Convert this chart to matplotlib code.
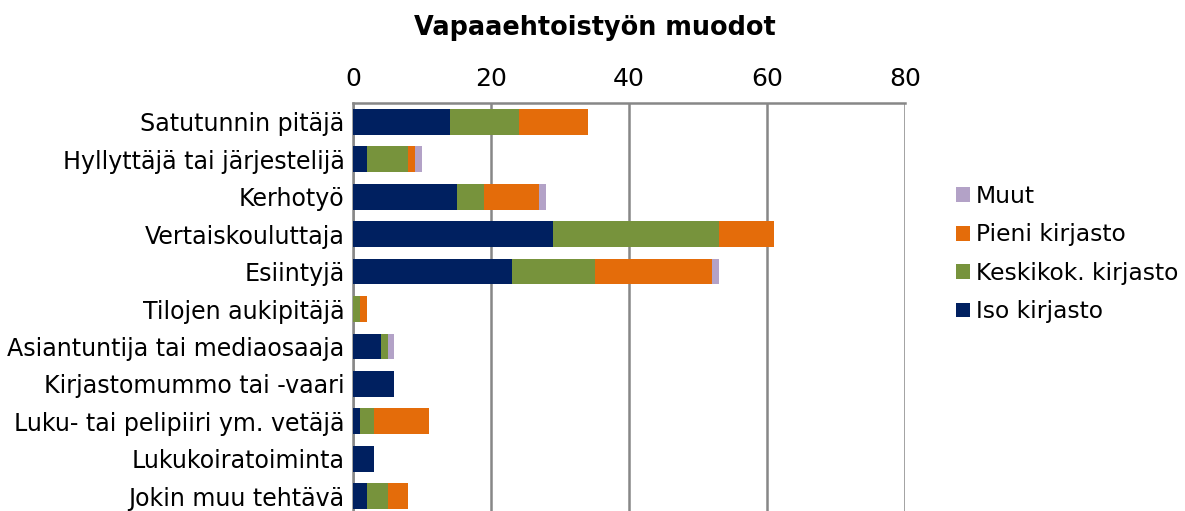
import matplotlib
matplotlib.use("Agg")
import matplotlib.pyplot as plt
import numpy as np

plt.rcParams["font.family"] = ["DejaVu Sans"]

categories = ["Satutunnin pitäjä", "Hyllyttäjä tai järjestelijä", "Kerhotyö",
              "Vertaiskouluttaja", "Esiintyjä", "Tilojen aukipitäjä",
              "Asiantuntija tai mediaosaaja", "Kirjastomummo tai -vaari",
              "Luku- tai pelipiiri ym. vetäjä", "Lukukoiratoiminta", "Jokin muu tehtävä"]
iso = [14, 2, 15, 29, 23, 0, 4, 6, 1, 3, 2]
keski = [10, 6, 4, 24, 12, 1, 1, 0, 2, 0, 3]
pieni = [10, 1, 8, 8, 17, 1, 0, 0, 8, 0, 3]
muut = [0, 1, 1, 0, 1, 0, 1, 0, 0, 0, 0]
series_names = ["Iso kirjasto", "Keskikok. kirjasto", "Pieni kirjasto", "Muut"]
colors = ["#002060", "#77933C", "#E46C0A", "#B3A2C7"]
xticks = [0, 20, 40, 60, 80]

fig = plt.figure(figsize=(11.85, 5.11), dpi=100)
W, H = 1185, 511
ax = fig.add_axes([353 / W, 1 - 515 / H, (905 - 353) / W, (515 - 103) / H])

y = np.arange(len(categories))
left = np.zeros(len(categories))
handles = []
for vals, name, c in zip([iso, keski, pieni, muut], series_names, colors):
    b = ax.barh(y, vals, left=left, height=0.69, color=c, label=name, zorder=3)
    handles.append(b)
    left += np.array(vals)

ax.set_ylim(len(categories) - 0.5, -0.5)
ax.set_xlim(0, 80)
ax.set_xticks(xticks)
ax.xaxis.tick_top()
ax.tick_params(axis="x", length=0, labelsize=18, pad=9)
ax.set_yticks(y)
ax.set_yticklabels(categories, fontsize=17.1)
ax.tick_params(axis="y", length=0, pad=6)
ax.grid(axis="x", color="#878787", linewidth=1.8, zorder=0)
for s in ["right", "bottom"]:
    ax.spines[s].set_visible(False)
for s in ["top", "left"]:
    ax.spines[s].set_color("#878787")
    ax.spines[s].set_linewidth(1.8)

fig.text(595 / W, 1 - 28 / H, "Vapaaehtoistyön muodot", ha="center", va="center",
         fontsize=18.4, fontweight="bold")

leg = fig.legend(handles[::-1], series_names[::-1], loc="upper left",
                 bbox_to_anchor=(935 / W, 1 - 164 / H), frameon=False,
                 fontsize=16.8, handlelength=0.6, handleheight=0.6,
                 handletextpad=0.25, labelspacing=0.66)

fig.savefig("out.png", dpi=100)
